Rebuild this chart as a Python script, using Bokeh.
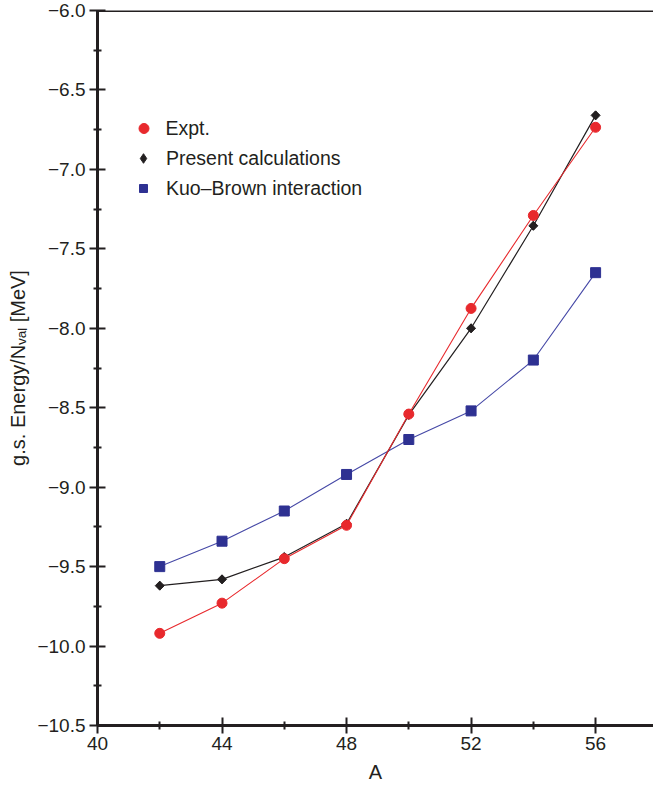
import numpy as np
from bokeh.plotting import figure
from bokeh.models import Range1d, FixedTicker, Legend, LegendItem, Span
from bokeh.embed import file_html
from bokeh.resources import INLINE

# ---- data ----
A = [42, 44, 46, 48, 50, 52, 54, 56]
expt = [-9.92, -9.73, -9.45, -9.24, -8.54, -7.875, -7.29, -6.735]
present = [-9.62, -9.58, -9.44, -9.23, -8.545, -8.00, -7.355, -6.66]
kuo_brown = [-9.50, -9.34, -9.15, -8.92, -8.70, -8.52, -8.20, -7.65]

x_ticks = [40, 44, 48, 52, 56]
x_tick_labels = ["40", "44", "48", "52", "56"]
x_minor = [42, 46, 50, 54]
y_ticks = [-10.5, -10.0, -9.5, -9.0, -8.5, -8.0, -7.5, -7.0, -6.5, -6.0]
y_tick_labels = ["\u221210.5", "\u221210.0", "\u22129.5", "\u22129.0", "\u22128.5",
                 "\u22128.0", "\u22127.5", "\u22127.0", "\u22126.5", "\u22126.0"]
y_minor = [-10.25, -9.75, -9.25, -8.75, -8.25, -7.75, -7.25, -6.75, -6.25]

series_names = ["Expt.", "Present calculations", "Kuo\u2013Brown interaction"]
x_label = "A"
y_label = "g.s. Energy/N\u1d65\u2090\u2097 [MeV]"

FONT = "Liberation Sans"
INK = "#231f20"
RED = "#e8292d"
BLUE = "#2e3192"

W, H = 653, 790
ML, MR, MT, MB = 97, 0, 10, 65
FH = H - MT - MB

p = figure(width=W, height=H, output_backend="svg", toolbar_location=None,
           x_range=Range1d(40, 57.86), y_range=Range1d(-10.5, -6.0),
           min_border_left=ML, min_border_right=MR, min_border_top=MT,
           min_border_bottom=MB, tools="")
p.outline_line_color = None
p.grid.visible = False
p.background_fill_color = "white"

for ax in (p.xaxis[0], p.yaxis[0]):
    ax.axis_line_width = 3
    ax.axis_line_color = INK
    ax.major_tick_line_width = 2
    ax.major_tick_line_color = INK
    ax.minor_tick_line_width = 2
    ax.minor_tick_line_color = INK
    ax.major_tick_in = 8
    ax.major_tick_out = 8
    ax.minor_tick_in = 4
    ax.minor_tick_out = 4
    ax.major_label_text_font = FONT
    ax.major_label_text_font_size = "19px"
    ax.major_label_text_color = INK
    ax.axis_label_text_font = FONT
    ax.axis_label_text_font_size = "20px"
    ax.axis_label_text_font_style = "normal"
    ax.axis_label_text_color = INK

p.xaxis[0].ticker = FixedTicker(ticks=x_ticks, minor_ticks=x_minor)
p.xaxis[0].major_label_overrides = {float(t): l for t, l in zip(x_ticks, x_tick_labels)}
p.xaxis[0].major_label_standoff = 3
p.xaxis[0].axis_label = x_label
p.xaxis[0].axis_label_standoff = 8

p.yaxis[0].ticker = FixedTicker(ticks=y_ticks, minor_ticks=y_minor)
p.yaxis[0].major_label_overrides = {float(t): l for t, l in zip(y_ticks, y_tick_labels)}
p.yaxis[0].major_label_standoff = 4
p.yaxis[0].axis_label = y_label
p.yaxis[0].axis_label_text_font_size = "20px"
p.yaxis[0].axis_label_standoff = 5

# top border line
p.add_layout(Span(location=-6.0, dimension="width", line_color=INK, line_width=3))

# series
p.line(A, kuo_brown, line_color="#4548a6", line_width=1.1)
r_kb = p.scatter(A, kuo_brown, marker="square", size=10, fill_color=BLUE, line_color=BLUE)
p.line(A, present, line_color=INK, line_width=1.2)
# diamond glyph used for the legend entry; it sits fully under the rotated squares
r_pr_leg = p.scatter(A, present, marker="diamond", size=8.5, fill_color=INK, line_color=INK)
p.scatter(A, present, marker="square", size=6.4, angle=np.pi / 4,
          fill_color=INK, line_color=INK)
p.line(A, expt, line_color=RED, line_width=1.1)
r_ex = p.scatter(A, expt, marker="circle", size=10, fill_color=RED, line_color=RED)

# legends (one per entry so marker sizes can differ)
def add_legend(label, rend, gw, cx_img, cy_img):
    gx0 = cx_img - gw / 2.0
    leg = Legend(items=[LegendItem(label=label, renderers=[rend])],
                 location=(gx0 - ML, (MT + FH) - (cy_img + 15)),
                 glyph_width=int(gw), glyph_height=30, label_height=30,
                 label_standoff=int(round(166 - (gx0 + gw))),
                 padding=0, margin=0, spacing=0,
                 border_line_color=None, background_fill_alpha=0,
                 label_text_font=FONT, label_text_font_size="19.5px",
                 label_text_color=INK)
    p.add_layout(leg)

add_legend(series_names[0], r_ex, 25, 143, 128)
add_legend(series_names[1], r_pr_leg, 24, 143, 158)
add_legend(series_names[2], r_kb, 20, 143, 188)

open("out.html", "w").write(file_html(p, INLINE))
